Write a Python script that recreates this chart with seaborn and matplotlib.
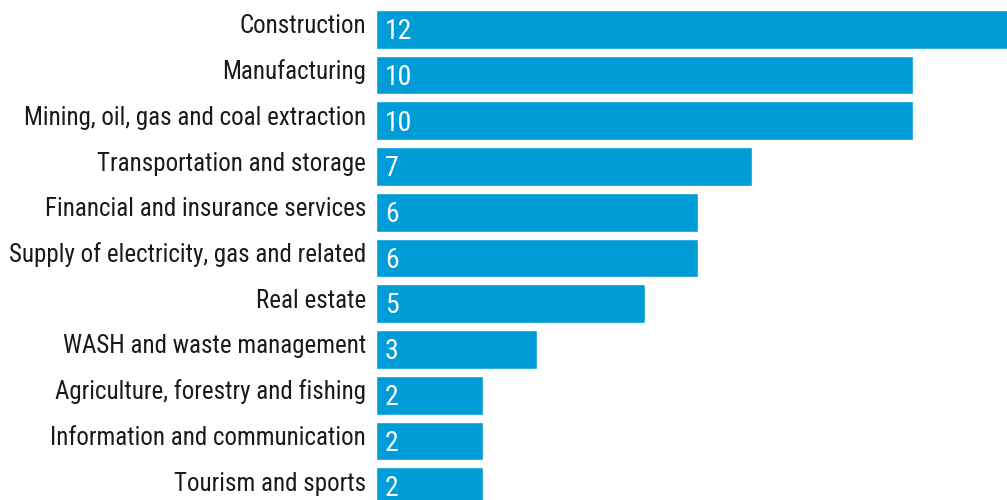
import matplotlib
matplotlib.use("Agg")
import matplotlib.pyplot as plt
from matplotlib import font_manager
import seaborn as sns
import pandas as pd

sectors = [
    "Construction",
    "Manufacturing",
    "Mining, oil, gas and coal extraction",
    "Transportation and storage",
    "Financial and insurance services",
    "Supply of electricity, gas and related",
    "Real estate",
    "WASH and waste management",
    "Agriculture, forestry and fishing",
    "Information and communication",
    "Tourism and sports",
]
counts = [12, 10, 10, 7, 6, 6, 5, 3, 2, 2, 2]

BAR_COLOR = "#009CD8"
TEXT_COLOR = "#1a1a1a"

sns.set_theme(style="white")

# prefer a condensed sans face
installed = {f.name for f in font_manager.fontManager.ttflist}
font_choice = "Roboto"
stretch = "normal"
for name in ["Roboto Condensed", "Liberation Sans Narrow", "Arial Narrow"]:
    if name in installed:
        font_choice = name
        stretch = "condensed"
        break
else:
    if any(f.name == "Roboto" and f.stretch == "condensed"
           for f in font_manager.fontManager.ttflist):
        stretch = "condensed"
plt.rcParams["font.family"] = [font_choice, "DejaVu Sans"]

df = pd.DataFrame({"sector": sectors, "count": counts})

fig = plt.figure(figsize=(10.07, 5.00), dpi=100)
ax = fig.add_axes([376 / 1007, 0, 631 / 1007, 1])

sns.barplot(data=df, x="count", y="sector", color=BAR_COLOR, saturation=1,
            width=0.847, orient="h", ax=ax)

ax.set_xlim(0, 631 / 53.7)
ax.set_ylim(10.292, -0.642)
ax.set_xlabel("")
ax.set_ylabel("")
ax.set_xticks([])
ax.set_yticks([])
for s in ax.spines.values():
    s.set_visible(False)

# category names, right-aligned just left of the bars
for i, name in enumerate(sectors):
    ax.annotate(name, xy=(0, i), xycoords=("axes fraction", "data"),
                xytext=(-10, -4), textcoords="offset pixels",
                ha="right", va="baseline", fontsize=18, fontstretch=stretch,
                color=TEXT_COLOR, annotation_clip=False)

# value inside each bar
for i, v in enumerate(counts):
    ax.annotate(str(v), xy=(0, i), xycoords="data",
                xytext=(9, -9.7), textcoords="offset pixels",
                ha="left", va="baseline", fontsize=20, fontstretch=stretch,
                color="white")

fig.savefig("out.png", dpi=100)
